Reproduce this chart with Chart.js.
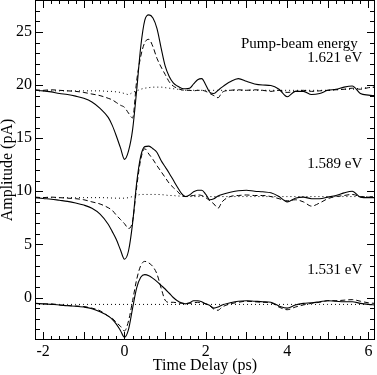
<!DOCTYPE html>
<html>
<head>
<meta charset="utf-8">
<script src="https://cdn.jsdelivr.net/npm/chart.js@4/dist/chart.umd.min.js"></script>
<style>
html,body{margin:0;padding:0;background:#fff;}
#wrap{width:377px;height:375px;position:relative;}
</style>
</head>
<body>
<div id="wrap"><canvas id="c" width="377" height="375"></canvas></div>
<script>
// ---- Data ----
const timeDelay = [-2.2,-2.0,-1.8,-1.6,-1.4,-1.2,-1.0,-0.8,-0.6,-0.4,-0.3,-0.2,-0.1,0.0,0.1,0.2,0.3,0.4,0.5,0.6,0.7,0.8,0.9,1.0,1.1,1.2,1.3,1.4,1.5,1.6,1.7,1.8,1.9,2.0,2.1,2.2,2.3,2.4,2.6,2.8,3.0,3.2,3.4,3.6,3.8,4.0,4.2,4.4,4.6,4.8,5.0,5.2,5.4,5.6,5.8,6.0,6.15];

// 1.621 eV
const solid1621 = [19.5,19.45,19.35,19.2,19.1,18.95,18.75,18.4,17.8,16.95,16.2,15.2,14.1,13.0,13.8,15.8,19.5,23.6,26.1,26.6,26.3,25.3,23.5,21.8,20.8,20.2,19.9,19.7,19.65,19.7,20.1,20.5,20.6,20.0,19.3,19.2,19.5,19.8,20.3,20.6,20.35,20.1,20.0,19.95,19.6,18.9,19.4,19.4,19.1,19.2,19.5,19.6,19.8,19.9,19.2,19.05,19.0];
const dashed1621 = [19.55,19.5,19.55,19.5,19.45,19.4,19.3,19.15,19.0,18.75,18.6,18.35,18.1,17.9,17.35,16.9,20.4,22.7,24.0,24.3,23.6,22.5,21.7,21.0,20.3,19.9,19.7,19.55,19.5,19.5,19.45,19.5,19.5,19.4,19.2,19.0,18.8,19.3,19.5,19.55,19.5,19.55,19.5,19.4,19.5,19.3,19.4,19.5,19.4,19.45,19.5,19.55,19.6,19.7,19.6,19.75,19.8];
const dotted1621 = [19.45,19.45,19.45,19.45,19.45,19.45,19.45,19.45,19.45,19.4,19.4,19.35,19.3,19.2,19.1,19.3,19.45,19.6,19.7,19.75,19.8,19.8,19.8,19.75,19.7,19.65,19.6,19.55,19.5,19.5,19.5,19.5,19.5,19.5,19.5,19.5,19.5,19.5,19.5,19.5,19.5,19.5,19.5,19.5,19.5,19.5,19.5,19.5,19.5,19.5,19.5,19.55,19.6,19.6,19.7,19.75,19.8];

// 1.589 eV
const solid1589 = [9.4,9.32,9.25,9.15,9.05,8.9,8.7,8.4,7.85,6.9,6.2,5.45,4.5,3.6,4.4,7.0,10.8,13.3,14.2,14.25,14.0,13.65,12.9,12.3,11.7,11.05,10.4,9.8,9.5,9.65,9.95,10.1,10.1,9.7,9.2,9.3,9.55,9.7,9.9,10.05,10.1,10.0,9.95,9.85,9.5,9.0,9.35,9.45,9.3,9.3,9.45,9.6,9.85,10.0,9.45,9.4,9.4];
const dashed1589 = [9.45,9.4,9.45,9.4,9.35,9.3,9.2,9.0,8.8,8.45,8.2,7.75,7.35,6.95,6.5,7.2,10.4,13.0,14.0,13.5,13.0,12.4,11.85,11.3,10.75,10.35,10.0,9.6,9.5,9.55,9.6,9.65,9.6,9.4,9.1,8.8,8.4,9.0,9.5,9.6,9.65,9.6,9.6,9.5,9.3,9.1,9.2,9.0,8.6,8.9,9.3,9.5,9.6,9.7,9.5,9.45,9.5];
const dotted1589 = [9.4,9.4,9.4,9.4,9.4,9.4,9.4,9.4,9.4,9.38,9.36,9.35,9.35,9.35,9.4,9.5,9.6,9.7,9.7,9.7,9.7,9.7,9.68,9.65,9.6,9.6,9.55,9.55,9.5,9.5,9.5,9.5,9.5,9.5,9.5,9.5,9.5,9.5,9.5,9.5,9.5,9.5,9.5,9.5,9.5,9.5,9.5,9.5,9.5,9.5,9.5,9.5,9.5,9.5,9.5,9.5,9.5];

// 1.531 eV
const solid1531 = [-0.55,-0.6,-0.65,-0.7,-0.78,-0.82,-0.9,-1.05,-1.35,-1.75,-2.05,-2.5,-3.1,-3.75,-3.0,-1.0,0.9,1.9,2.15,2.05,1.8,1.5,1.15,0.8,0.4,0.0,-0.3,-0.5,-0.6,-0.5,-0.3,-0.3,-0.4,-0.6,-0.75,-1.0,-0.9,-0.7,-0.5,-0.35,-0.3,-0.35,-0.4,-0.45,-0.8,-1.0,-0.7,-0.55,-0.5,-0.4,-0.3,-0.35,-0.4,-0.4,-0.55,-0.65,-0.7];
const dashed1531 = [-0.55,-0.6,-0.6,-0.7,-0.75,-0.8,-0.85,-1.0,-1.25,-1.75,-1.95,-2.35,-2.7,-3.15,-2.2,-0.3,1.7,3.0,3.4,3.25,2.9,2.2,0.9,-0.25,-0.45,-0.45,-0.5,-0.55,-0.55,-0.55,-0.5,-0.45,-0.5,-0.6,-0.8,-1.1,-1.2,-0.9,-0.6,-0.45,-0.35,-0.4,-0.45,-0.5,-0.9,-1.15,-0.9,-0.7,-0.55,-0.45,-0.3,-0.3,-0.25,-0.2,-0.35,-0.5,-0.55];
const dotted1531 = [-0.65,-0.65,-0.65,-0.65,-0.65,-0.65,-0.65,-0.65,-0.65,-0.65,-0.65,-0.65,-0.65,-0.65,-0.65,-0.65,-0.65,-0.65,-0.65,-0.65,-0.65,-0.65,-0.65,-0.65,-0.65,-0.65,-0.65,-0.65,-0.65,-0.65,-0.65,-0.65,-0.65,-0.65,-0.65,-0.65,-0.65,-0.65,-0.65,-0.65,-0.65,-0.65,-0.65,-0.65,-0.65,-0.65,-0.65,-0.65,-0.65,-0.65,-0.65,-0.65,-0.65,-0.65,-0.65,-0.65,-0.65];

const xTickLabels = [-2, 0, 2, 4, 6];
const yTickLabels = [0, 5, 10, 15, 20, 25];
const headerText = 'Pump-beam energy';
const energyLabels = ['1.621 eV', '1.589 eV', '1.531 eV'];

// ---- Layout / style (not data) ----
const headerPos = {x: 4.3, y: 23.9};
const energyPos = [{x: 5.17, y: 22.5}, {x: 5.17, y: 12.55}, {x: 5.17, y: 2.55}];

function pts(arr){ return timeDelay.map((t,i)=>({x:t, y:arr[i]})); }
function ds(arr, style){
  const base = {data: pts(arr), borderColor:'#000', backgroundColor:'#000', pointRadius:0, fill:false, cubicInterpolationMode:'monotone', borderWidth:1.1};
  if(style==='dash'){ base.borderDash=[5,3]; base.borderWidth=1; }
  if(style==='dot'){ base.borderDash=[1,3]; base.borderWidth=1; }
  return base;
}

const serif = '"Liberation Serif", "Times New Roman", serif';

const framePlugin = {
  id: 'frame',
  afterDatasetsDraw(chart){
    const {ctx, chartArea:{left,right,top,bottom}, scales:{x,y}} = chart;
    ctx.save();
    ctx.strokeStyle = '#000';
    ctx.lineWidth = 1;
    ctx.setLineDash([]);
    ctx.strokeRect(left+0.5, top+0.5, right-left-1, bottom-top-1);
    ctx.beginPath();
    for(let k=-10;k<=30;k++){
      const v = k/5;
      const px = Math.round(x.getPixelForValue(v))+0.5;
      const len = (k%5===0) ? 8 : 4;
      ctx.moveTo(px, bottom); ctx.lineTo(px, bottom-len);
      ctx.moveTo(px, top); ctx.lineTo(px, top+len);
    }
    for(let v=-3; v<=27; v++){
      const py = Math.round(y.getPixelForValue(v))+0.5;
      const len = (v%5===0) ? 8 : 5;
      ctx.moveTo(left, py); ctx.lineTo(left+len, py);
      ctx.moveTo(right, py); ctx.lineTo(right-len, py);
    }
    ctx.stroke();
    ctx.fillStyle = '#000';
    ctx.textAlign = 'center';
    ctx.textBaseline = 'middle';
    ctx.font = '15px ' + serif;
    ctx.fillText(headerText, x.getPixelForValue(headerPos.x), y.getPixelForValue(headerPos.y));
    energyLabels.forEach((t,i)=>{
      ctx.fillText(t, x.getPixelForValue(energyPos[i].x), y.getPixelForValue(energyPos[i].y));
    });
    ctx.restore();
  }
};

new Chart(document.getElementById('c'), {
  type: 'line',
  data: {
    datasets: [
      ds(dotted1621,'dot'), ds(dashed1621,'dash'), ds(solid1621,'solid'),
      ds(dotted1589,'dot'), ds(dashed1589,'dash'), ds(solid1589,'solid'),
      ds(dotted1531,'dot'), ds(dashed1531,'dash'), ds(solid1531,'solid')
    ]
  },
  options: {
    responsive: false,
    animation: false,
    layout: {padding: {top: 0, right: 2, left: 0, bottom: 0}},
    plugins: {legend: {display:false}, tooltip: {enabled:false}},
    scales: {
      x: {
        type: 'linear', min: -2.2, max: 6.16,
        grid: {display:false, drawTicks:false},
        border: {display:false},
        afterBuildTicks: s => { s.ticks = xTickLabels.map(v=>({value:v})); },
        afterFit: s => { s.height = 35; s.paddingLeft = 0; s.paddingRight = 0; },
        ticks: {color:'#000', padding: 2, maxRotation:0, autoSkip:false, font:{family: serif, size:16}},
        title: {display:true, text:'Time Delay (ps)', color:'#000', padding:{top:0,bottom:0}, font:{family: serif, size:16}}
      },
      y: {
        type: 'linear', min: -4, max: 28,
        grid: {display:false, drawTicks:false},
        border: {display:false},
        afterBuildTicks: s => { s.ticks = yTickLabels.map(v=>({value:v})); },
        afterFit: s => { s.width = 35; s.paddingTop = 0; s.paddingBottom = 0; },
        ticks: {color:'#000', padding: 3, autoSkip:false, font:{family: serif, size:16}},
        title: {display:true, text:'Amplitude (pA)', color:'#000', padding:{top:0,bottom:0}, font:{family: serif, size:16, lineHeight:1}}
      }
    }
  },
  plugins: [framePlugin]
});
</script>
</body>
</html>
